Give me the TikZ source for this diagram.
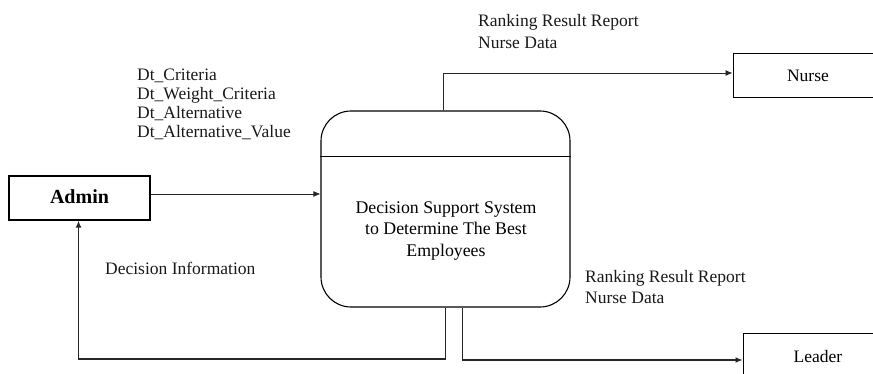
\documentclass[tikz,border=0pt]{standalone}
\usepackage{fontspec}
\setmainfont{Liberation Serif}
\usetikzlibrary{arrows.meta,calc}
\tikzset{
  entity/.style={draw=black, line width=1pt, inner sep=0pt, font=\fontsize{17.5}{19}\selectfont},
  proc/.style={draw=black, line width=1.1pt, rounded corners=30pt, inner sep=0pt},
  flow/.style={draw=black!85, line width=0.9pt, -{Latex[length=7pt,width=6pt]}},
  thickflow/.style={draw=black!85, line width=1.4pt, -{Latex[length=7pt,width=6pt]}},
  lbl/.style={inner sep=0pt, align=left, anchor=west, text=black!90},
}
\begin{document}
\begin{tikzpicture}[x=1pt,y=-1pt]
\useasboundingbox (0,0) rectangle (873,374);
\clip (0,0) rectangle (873,374);
% nodes
\node[entity, line width=1.3pt, minimum width=141pt, minimum height=44pt] (admin) at (79.5,198) {\fontsize{20}{22}\selectfont\bfseries\raisebox{3pt}{Admin}};
\node[proc, minimum width=249pt, minimum height=196pt] (dss) at (445.5,209) {};
\node[inner sep=0pt, align=center, font=\fontsize{17.8}{21.5}\selectfont] (dsstext) at (446,231) {Decision Support System\\to Determine The Best\\Employees};
\node[entity, minimum width=150pt, minimum height=44pt] (nurse) at (808,76) {\raisebox{1pt}{Nurse}};
\node[entity, minimum width=150pt, minimum height=54pt] (leader) at (818,360) {\raisebox{7pt}{Leader}};
% divider
\draw[line width=1.3pt] ([yshift=-46pt]dss.north west) -- ([yshift=-46pt]dss.north east);
% labels
\node[lbl, font=\fontsize{17.5}{19}\selectfont] (lblin) at (137,104.5) {Dt\_Criteria\\Dt\_Weight\_Criteria\\Dt\_Alternative\\Dt\_Alternative\_Value};
\node[lbl, font=\fontsize{17.5}{22}\selectfont] (lblnurse) at (478,31.5) {Ranking Result Report\\Nurse Data};
\node[lbl, font=\fontsize{17.5}{21}\selectfont] (lblleader) at (585,287) {Ranking Result Report\\Nurse Data};
\node[lbl, font=\fontsize{17.5}{19}\selectfont] (lbldec) at (105,268) {Decision Information};
% connectors
\draw[flow] ([yshift=4pt]admin.east) -- ([yshift=4pt]admin.east -| dss.west);
\draw[flow] ([xshift=-2pt]dss.north) |- ([yshift=3pt]nurse.west);
\draw[thickflow] (dss.south) |- ([xshift=-1pt]admin.south |- 0,359) -- ([xshift=-1pt]admin.south);
\draw[flow, line width=1.2pt] ([xshift=17pt]dss.south) |- (leader.west);
\end{tikzpicture}
\end{document}
